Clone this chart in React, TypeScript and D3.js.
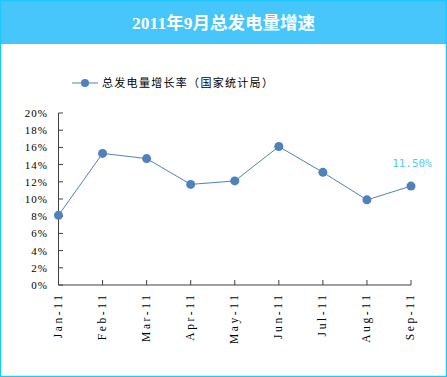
import React from "react";
import * as d3 from "d3";

const categories = ["Jan-11", "Feb-11", "Mar-11", "Apr-11", "May-11", "Jun-11", "Jul-11", "Aug-11", "Sep-11"];
const growth = [8.1, 15.3, 14.7, 11.7, 12.1, 16.1, 13.1, 9.9, 11.5];
const yTicks = [0, 2, 4, 6, 8, 10, 12, 14, 16, 18, 20];
const title = "2011年9月总发电量增速";
const seriesName = "总发电量增长率（国家统计局）";
const lastLabel = "11.50%";

export default function App() {
  const W = 447, H = 377;
  const x = d3.scalePoint<string>().domain(categories).range([58.5, 411]);
  const y = d3.scaleLinear().domain([0, 20]).range([285, 113]);
  const line = d3.line<number>().x((_, i) => x(categories[i])!).y(d => y(d));
  const axisColor = "#404040";
  const blue = "#4F81BD";
  const serif = "'Liberation Serif', 'DejaVu Serif', serif";
  const last = growth.length - 1;
  return (
    <svg width={W} height={H} style={{ position: "absolute", left: 0, top: 0 }}>
      <rect x={0} y={0} width={W} height={H} fill="#fff" />
      <rect x={0} y={0} width={W} height={44} fill="#46C6FB" />
      <rect x={0.5} y={0.5} width={W - 1} height={H - 1} fill="none" stroke="#1EC8FA" strokeWidth={1.5} />
      <text x={W / 2} y={29} textAnchor="middle" fill="#fff" fontSize={17.5} fontWeight="bold"
        fontFamily="'Liberation Serif', 'Noto Sans CJK SC', serif">{title}</text>
      {/* legend */}
      <line x1={72} x2={98} y1={83} y2={83} stroke={blue} strokeWidth={1} />
      <circle cx={85} cy={83} r={4} fill={blue} />
      <text x={102} y={87} fontSize={11} letterSpacing={1.3} fill="#000"
        fontFamily="'Noto Sans CJK SC', sans-serif">{seriesName}</text>
      {/* y axis */}
      <line x1={58.5} x2={58.5} y1={113} y2={285} stroke={axisColor} />
      {yTicks.map(t => (
        <g key={t}>
          <line x1={58.5} x2={63} y1={y(t)} y2={y(t)} stroke={axisColor} />
          <text x={48} y={y(t) + 4} textAnchor="end" fontSize={11} letterSpacing={1} fontFamily={serif} fill="#000">{t}%</text>
        </g>
      ))}
      {/* x axis */}
      <line x1={58.5} x2={411} y1={285} y2={285} stroke={axisColor} />
      {categories.map(c => (
        <g key={c}>
          <line x1={x(c)} x2={x(c)} y1={285} y2={280} stroke={axisColor} />
          <text transform={`translate(${x(c)! + 3},292.5) rotate(-90)`} textAnchor="end" fontSize={11.5}
            letterSpacing={2.6} fontFamily={serif} fill="#000">{c}</text>
        </g>
      ))}
      <path d={line(growth)!} fill="none" stroke={blue} strokeWidth={1} />
      {growth.map((v, i) => (
        <circle key={i} cx={x(categories[i])} cy={y(v)} r={4.5} fill={blue} />
      ))}
      <text x={x(categories[last])! + 1} y={y(growth[last]) - 19} textAnchor="middle" fontSize={11}
        fontFamily="'DejaVu Sans Mono', monospace" fill="#5BC8F5">{lastLabel}</text>
    </svg>
  );
}
